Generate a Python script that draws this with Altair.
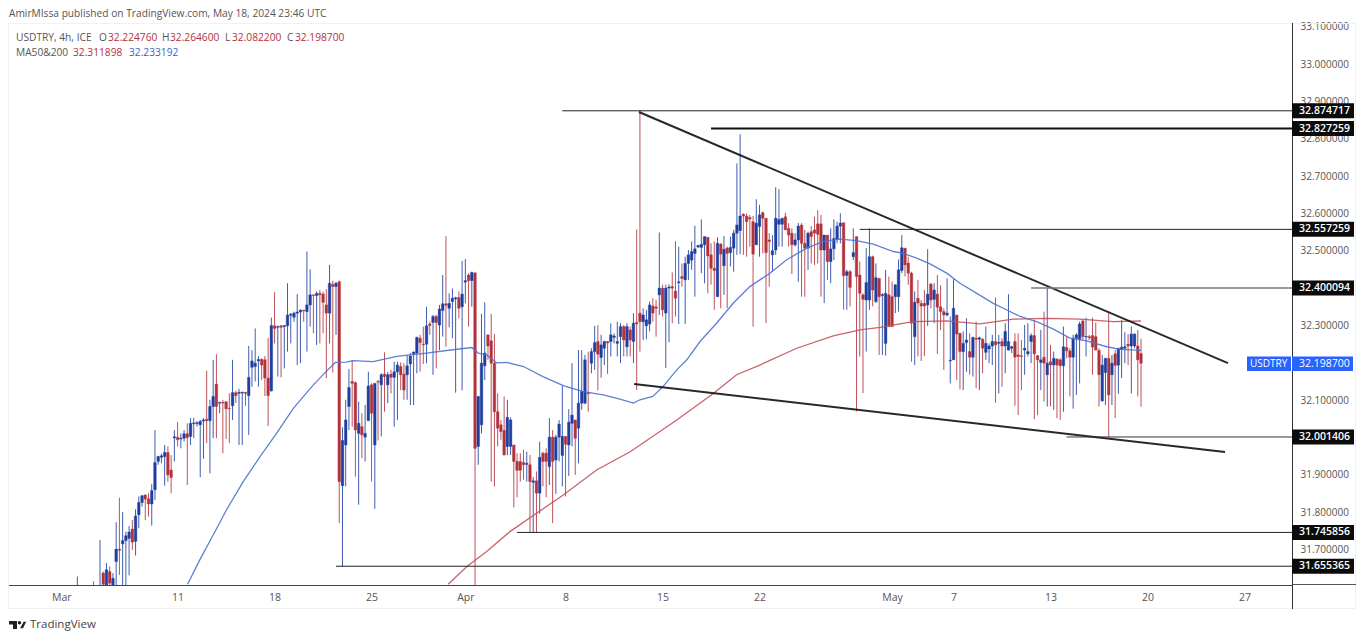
import altair as alt
import pandas as pd

first_bar = -31
high = [
31.628,31.60,31.60,31.60,31.60,31.615,31.60,31.726,31.641,31.664,
31.655,31.637,31.773,31.839,31.800,31.748,31.763,31.779,31.808,31.842,
31.846,31.848,31.851,31.875,32.020,31.951,31.956,31.980,31.976,31.953,
32.020,32.041,32.011,32.020,32.038,32.052,32.053,32.043,32.047,32.052,
32.179,32.101,32.208,32.223,32.096,32.101,32.096,32.118,32.208,32.125,
32.130,32.123,32.121,32.245,32.234,32.292,32.218,32.212,32.218,32.266,
32.321,32.389,32.300,32.301,32.301,32.413,32.333,32.337,32.384,32.343,
32.341,32.498,32.450,32.382,32.391,32.395,32.391,32.397,32.462,32.420,
32.417,32.420,32.027,32.101,32.183,32.208,32.150,32.096,32.065,32.087,
32.176,32.145,32.145,32.154,32.172,32.228,32.176,32.181,32.203,32.203,
32.201,32.199,32.221,32.226,32.230,32.270,32.275,32.297,32.350,32.310,
32.328,32.328,32.355,32.435,32.539,32.386,32.399,32.377,32.391,32.473,
32.478,32.440,32.444,32.441,32.110,32.331,32.362,32.275,32.331,32.277,
32.118,32.047,32.110,32.101,32.054,31.980,31.958,31.958,31.967,31.962,
31.953,31.894,31.909,31.989,31.962,31.971,32.052,32.020,32.007,32.047,
32.139,32.003,32.076,32.199,32.047,32.234,32.234,32.221,32.230,32.239,
32.299,32.301,32.275,32.259,32.257,32.306,32.279,32.310,32.306,32.301,
32.306,32.297,32.333,32.557,32.875,32.346,32.342,32.364,32.373,32.368,
32.549,32.409,32.409,32.410,32.442,32.525,32.511,32.466,32.484,32.502,
32.525,32.567,32.516,32.584,32.538,32.536,32.520,32.525,32.536,32.520,
32.540,32.511,32.538,32.556,32.734,32.812,32.600,32.600,32.596,32.593,
32.638,32.623,32.605,32.587,32.547,32.542,32.670,32.665,32.587,32.602,
32.574,32.560,32.547,32.574,32.574,32.556,32.551,32.566,32.591,32.609,
32.596,32.542,32.542,32.560,32.584,32.578,32.600,32.575,32.449,32.449,
32.560,32.538,32.471,32.386,32.507,32.560,32.487,32.466,32.426,32.386,
32.449,32.431,32.417,32.409,32.477,32.542,32.507,32.484,32.444,32.391,
32.422,32.368,32.395,32.504,32.413,32.413,32.435,32.408,32.346,32.426,
32.324,32.424,32.328,32.279,32.284,32.319,32.279,32.270,32.310,32.270,
32.266,32.297,32.252,32.275,32.375,32.275,32.266,32.306,32.384,32.245,
32.279,32.279,32.261,32.301,32.306,32.279,32.315,32.221,32.288,32.337,
32.400,32.248,32.230,32.212,32.212,32.297,32.270,32.239,32.275,32.279,
32.310,32.315,32.321,32.275,32.321,32.308,32.239,32.221,32.212,32.337,
32.221,32.234,32.239,32.315,32.282,32.277,32.297,32.279,32.288,32.2646]
low = [
31.58,31.55,31.55,31.55,31.55,31.55,31.55,31.55,31.56,31.58,
31.58,31.58,31.58,31.632,31.58,31.59,31.631,31.699,31.684,31.757,
31.815,31.779,31.788,31.764,31.833,31.927,31.931,31.871,31.882,31.851,
31.936,31.976,31.971,31.989,31.873,31.980,31.998,32.029,31.894,31.943,
31.985,31.904,31.998,31.998,32.065,31.958,31.996,31.985,32.047,32.092,
31.980,31.980,32.085,32.007,32.136,32.150,32.136,32.154,32.111,32.031,
32.123,32.252,32.163,32.161,32.185,32.230,32.252,32.310,32.194,32.199,
32.310,32.230,32.297,32.279,32.248,32.252,32.279,32.159,32.252,32.174,
32.275,31.771,31.655,31.869,32.020,32.029,31.895,31.820,31.945,31.936,
32.045,31.882,31.809,31.992,32.003,32.069,32.092,32.118,32.029,32.047,
32.127,32.101,32.101,32.087,32.087,32.172,32.176,32.197,32.199,32.275,
32.168,32.185,32.234,32.270,32.243,32.295,32.266,32.120,32.319,32.126,
32.359,32.297,32.350,31.60,31.927,32.011,32.154,32.208,31.882,31.869,
31.976,31.994,31.953,31.953,31.953,31.813,31.840,31.882,31.887,31.882,
31.746,31.746,31.746,31.796,31.869,31.840,31.873,31.771,31.849,31.936,
31.869,31.842,31.897,31.976,31.900,31.931,32.074,32.089,32.069,32.172,
32.181,32.126,32.160,32.194,32.170,32.217,32.252,32.217,32.199,32.217,
32.217,32.217,32.199,32.127,32.230,32.261,32.263,32.284,32.310,32.270,
32.328,32.324,32.186,32.255,32.306,32.324,32.304,32.404,32.304,32.422,
32.449,32.377,32.507,32.440,32.413,32.386,32.409,32.342,32.377,32.346,
32.382,32.346,32.458,32.444,32.489,32.491,32.489,32.484,32.511,32.297,
32.516,32.484,32.493,32.306,32.404,32.444,32.489,32.511,32.511,32.556,
32.511,32.438,32.511,32.417,32.377,32.377,32.449,32.466,32.462,32.466,
32.377,32.360,32.422,32.413,32.475,32.520,32.520,32.342,32.342,32.351,
32.475,32.070,32.217,32.119,32.230,32.342,32.351,32.360,32.221,32.221,
32.219,32.297,32.297,32.333,32.337,32.440,32.431,32.409,32.203,32.194,
32.217,32.205,32.218,32.299,32.346,32.306,32.224,32.288,32.181,32.324,
32.145,32.208,32.154,32.129,32.127,32.176,32.168,32.163,32.132,32.127,
32.172,32.208,32.199,32.194,32.093,32.118,32.136,32.172,32.233,32.226,
32.085,32.060,32.127,32.168,32.217,32.199,32.049,32.060,32.127,32.096,
32.083,32.083,32.074,32.052,32.047,32.069,32.212,32.110,32.077,32.114,
32.145,32.261,32.217,32.261,32.168,32.234,32.083,32.096,32.087,32.001,
32.087,32.052,32.117,32.159,32.199,32.194,32.118,32.239,32.110,32.0822]
open_ = [
31.59,31.57,31.57,31.57,31.57,31.59,31.57,31.57,31.637,31.60,
31.641,31.60,31.668,31.701,31.715,31.724,31.730,31.755,31.722,31.793,
31.826,31.846,31.836,31.822,31.860,31.936,31.947,31.949,31.960,31.913,
31.999,32.001,31.996,31.998,32.010,32.003,32.037,32.037,32.034,32.044,
32.049,32.045,32.083,32.143,32.092,32.094,32.096,32.078,32.085,32.120,
32.118,32.119,32.121,32.112,32.188,32.190,32.205,32.209,32.208,32.159,
32.125,32.299,32.295,32.299,32.297,32.299,32.327,32.322,32.333,32.336,
32.341,32.337,32.355,32.382,32.380,32.386,32.384,32.355,32.333,32.410,
32.404,32.417,31.871,31.980,32.083,32.150,32.147,32.011,32.029,32.001,
32.045,32.141,31.980,32.150,32.141,32.170,32.141,32.170,32.161,32.176,
32.190,32.170,32.168,32.197,32.224,32.226,32.266,32.250,32.250,32.304,
32.308,32.324,32.301,32.340,32.358,32.346,32.364,32.371,32.375,32.350,
32.416,32.435,32.420,32.441,31.976,32.034,32.192,32.275,32.259,32.199,
32.069,32.034,32.019,31.976,31.976,31.980,31.936,31.936,31.933,31.928,
31.927,31.880,31.884,31.851,31.958,31.958,31.922,32.001,31.940,32.001,
31.952,32.003,31.980,32.038,32.047,32.025,32.092,32.092,32.120,32.199,
32.230,32.257,32.214,32.239,32.257,32.257,32.268,32.252,32.270,32.297,
32.243,32.288,32.257,32.308,32.333,32.310,32.299,32.304,32.352,32.350,
32.382,32.400,32.333,32.400,32.404,32.392,32.414,32.431,32.422,32.466,
32.475,32.493,32.510,32.509,32.516,32.536,32.489,32.453,32.377,32.518,
32.460,32.507,32.495,32.507,32.547,32.554,32.598,32.593,32.589,32.578,
32.516,32.565,32.602,32.587,32.529,32.489,32.502,32.571,32.571,32.591,
32.560,32.547,32.516,32.529,32.569,32.520,32.507,32.551,32.556,32.572,
32.572,32.502,32.542,32.471,32.505,32.531,32.566,32.575,32.434,32.444,
32.484,32.538,32.435,32.382,32.368,32.368,32.484,32.364,32.426,32.380,
32.252,32.382,32.377,32.377,32.377,32.447,32.507,32.467,32.440,32.270,
32.373,32.359,32.359,32.355,32.411,32.370,32.384,32.350,32.337,32.328,
32.205,32.208,32.328,32.279,32.230,32.254,32.230,32.215,32.266,32.263,
32.263,32.228,32.237,32.245,32.257,32.252,32.257,32.245,32.234,32.239,
32.257,32.221,32.219,32.234,32.224,32.257,32.273,32.219,32.201,32.215,
32.168,32.203,32.194,32.210,32.208,32.192,32.241,32.232,32.215,32.266,
32.263,32.312,32.269,32.270,32.273,32.270,32.233,32.098,32.174,32.212,
32.168,32.224,32.194,32.236,32.239,32.250,32.245,32.245,32.245,32.22476]
close = [
31.60,31.56,31.56,31.56,31.56,31.57,31.56,31.59,31.607,31.646,
31.610,31.623,31.701,31.698,31.724,31.737,31.747,31.720,31.790,31.826,
31.844,31.835,31.822,31.858,31.933,31.949,31.951,31.960,31.900,31.893,
32.002,31.994,31.998,32.010,32.000,32.038,32.039,32.040,32.043,32.047,
32.045,32.083,32.110,32.083,32.094,32.092,32.077,32.077,32.120,32.112,
32.121,32.121,32.118,32.161,32.205,32.199,32.209,32.194,32.159,32.112,
32.300,32.292,32.297,32.295,32.300,32.328,32.330,32.333,32.336,32.341,
32.339,32.355,32.382,32.380,32.386,32.382,32.362,32.333,32.413,32.404,
32.413,31.882,31.992,32.047,32.134,32.145,32.020,32.038,32.007,32.011,
32.138,32.065,32.145,32.148,32.168,32.163,32.168,32.161,32.176,32.194,
32.168,32.127,32.192,32.218,32.229,32.268,32.254,32.248,32.299,32.300,
32.324,32.308,32.344,32.358,32.354,32.359,32.373,32.374,32.346,32.384,
32.420,32.420,32.442,31.971,32.110,32.199,32.226,32.245,32.199,32.069,
32.025,32.016,31.953,32.054,32.047,31.936,31.912,31.912,31.927,31.931,
31.882,31.884,31.851,31.947,31.936,31.936,32.001,31.936,32.001,32.036,
32.003,31.982,32.041,32.060,31.998,32.092,32.123,32.208,32.117,32.230,
32.254,32.223,32.248,32.257,32.253,32.275,32.272,32.257,32.297,32.261,
32.297,32.261,32.306,32.304,32.310,32.328,32.315,32.355,32.333,32.346,
32.400,32.342,32.400,32.403,32.400,32.373,32.417,32.426,32.466,32.489,
32.498,32.505,32.514,32.517,32.538,32.486,32.453,32.447,32.520,32.491,
32.504,32.493,32.509,32.547,32.569,32.593,32.593,32.578,32.585,32.491,
32.574,32.596,32.587,32.495,32.525,32.500,32.587,32.584,32.587,32.556,
32.542,32.516,32.529,32.566,32.520,32.507,32.547,32.538,32.547,32.544,
32.502,32.542,32.471,32.505,32.533,32.566,32.574,32.433,32.444,32.402,
32.495,32.431,32.386,32.370,32.415,32.484,32.395,32.428,32.377,32.383,
32.386,32.297,32.297,32.409,32.449,32.508,32.462,32.440,32.306,32.362,
32.360,32.352,32.352,32.384,32.368,32.395,32.349,32.337,32.328,32.333,
32.207,32.346,32.277,32.230,32.252,32.261,32.215,32.268,32.263,32.267,
32.239,32.252,32.245,32.257,32.248,32.255,32.245,32.284,32.257,32.243,
32.215,32.217,32.217,32.239,32.230,32.273,32.224,32.208,32.208,32.199,
32.199,32.194,32.212,32.194,32.192,32.243,32.232,32.215,32.266,32.275,
32.304,32.270,32.271,32.267,32.242,32.234,32.168,32.194,32.212,32.114,
32.199,32.193,32.239,32.242,32.243,32.245,32.277,32.277,32.208,32.1987]

ma50_bar = [3.1,6.9,11,15.1,20.3,25.5,30.6,35.8,42,46,48.8,52.2,54.3,60.5,67.8,77,83.2,91,93,95.6,98.7,101.8,107,113,119.3,125.5,131.7,136.8,141,143,147,150.2,154.4,157.5,161.6,166.7,171.9,177,183.2,188.4,194.6,199.7,204.9,210,215.2,221.4,224.5,228.6,232.7,237.9,242,247.2,252.3,255.4,260.6,265.7,270.9,276,281.2,287.4,291.5,298]
ma50_val = [31.607,31.673,31.739,31.806,31.882,31.949,32.011,32.078,32.141,32.177,32.201,32.202,32.206,32.203,32.217,32.226,32.233,32.241,32.226,32.221,32.200,32.201,32.190,32.163,32.139,32.123,32.114,32.103,32.092,32.101,32.110,32.137,32.181,32.208,32.257,32.306,32.360,32.404,32.440,32.476,32.507,32.525,32.531,32.527,32.518,32.498,32.493,32.480,32.465,32.440,32.413,32.386,32.359,32.346,32.324,32.310,32.290,32.266,32.259,32.243,32.236,32.233192]
ma200_bar = [83.7,89.4,95.6,102.8,111,119.3,129.6,140,154.4,165.7,172.9,180.1,191.5,202.8,211.1,217.3,223.4,227.6,237.9,248.2,258.5,268.8,279.1,289.4,298]
ma200_val = [31.607,31.654,31.695,31.748,31.797,31.846,31.913,31.962,32.047,32.118,32.168,32.194,32.239,32.272,32.288,32.295,32.304,32.310,32.312,32.304,32.317,32.319,32.317,32.310,32.311898]

level_start = [119,165,211,264,275,105,49]
level_price = [32.874717,32.827259,32.557259,32.400094,32.001406,31.745856,31.655365]
level_width = [1,2,1,1.5,1,1,1]
level_color = ["#222222","#111111","#222222","#777777","#333333","#222222","#222222"]

trend_bar = [[142.7,324.9],[141.2,324.0]]
trend_price = [[32.8715,32.199],[32.143,31.961]]

y_ticks = [33.1,33.0,32.9,32.8,32.7,32.6,32.5,32.3,32.1,31.9,31.8,31.7]
x_tick_bar = [-36,0,30,60,89,120,150,180,221,240,270,300,330]
x_tick_text = ["Mar","11","18","25","Apr","8","15","22","May","7","13","20","27"]

X0, X1 = -52.46, 344.7
Y0, Y1 = 31.6051, 33.1098
FONT = "Open Sans"
GRAY = "#555555"
RED = "#b2323c"
BLUE = "#1f3fa0"

bars = pd.DataFrame({"i": [first_bar + k for k in range(len(close))], "o": open_, "h": high, "l": low, "c": close})
bars["up"] = bars.c >= bars.o
bars["lo"] = bars[["o", "c"]].min(axis=1)
bars["hi"] = bars[["o", "c"]].max(axis=1)

xs = alt.Scale(domain=[X0, X1], nice=False, zero=False, padding=0)
ys = alt.Scale(domain=[Y0, Y1], nice=False, zero=False, padding=0)
colr = alt.Color("up:N", scale=alt.Scale(domain=[True, False], range=[BLUE, RED]), legend=None)
lookup = "{" + ",".join(f"'{b}':'{t}'" for b, t in zip(x_tick_bar, x_tick_text)) + "}[datum.value]"

xaxis = alt.Axis(values=x_tick_bar, labelExpr=lookup, title=None, grid=False, ticks=False, labelOverlap=False,
                 labelFlush=False, domainColor="#444444", labelColor=GRAY, labelFont=FONT, labelFontSize=10.5, labelPadding=7)
yaxis = alt.Axis(values=y_ticks, format=".6f", orient="right", title=None, grid=False, ticks=False, labelOverlap=False,
                 labelFlush=False, domainColor="#222222", labelColor=GRAY, labelFont=FONT, labelFontSize=10, labelPadding=8)
X = lambda f: alt.X(f, scale=xs, axis=xaxis)
Y = lambda f: alt.Y(f, scale=ys, axis=yaxis)

wicks = alt.Chart(bars).mark_rule(strokeWidth=1, clip=True, opacity=0.85).encode(
    x=X("i:Q"), y=Y("l:Q"), y2="h:Q", color=colr)
bodies = alt.Chart(bars).mark_bar(size=2.6, clip=True, orient="vertical", strokeWidth=0.4).encode(
    x=X("i:Q"), y=Y("lo:Q"), y2="hi:Q", color=colr, stroke=colr)

def curve(bx, vals, color, width):
    df = pd.DataFrame({"i": bx, "v": vals})
    return alt.Chart(df).mark_line(color=color, strokeWidth=width, clip=True, opacity=0.9).encode(
        x=X("i:Q"), y=Y("v:Q"))

layers = [wicks, bodies, curve(ma200_bar, ma200_val, "#c2525c", 1.3), curve(ma50_bar, ma50_val, "#4f72d2", 1.3)]
for bx, vals in zip(trend_bar, trend_price):
    layers.append(curve(bx, vals, "#111111", 2))

for s, p, w, c in zip(level_start, level_price, level_width, level_color):
    df = pd.DataFrame({"i": [s], "e": [X1], "p": [p]})
    layers.append(alt.Chart(df).mark_rule(color=c, strokeWidth=w, clip=True).encode(
        x=X("i:Q"), x2="e:Q", y=Y("p:Q")))

def text(label, px, py, color=GRAY, size=10.5, align="left", weight="normal", font=FONT):
    return alt.Chart(pd.DataFrame({"t": [label]})).mark_text(
        align=align, baseline="middle", font=font, fontSize=size, fontWeight=weight, color=color,
        x=px - 8, y=py - 23).encode(text="t:N")

def box(left, right, top, bottom, color):
    return alt.Chart(pd.DataFrame({"k": [0]})).mark_rect(color=color).encode(
        x=alt.value(left - 8), x2=alt.value(right - 8), y=alt.value(top - 23), y2=alt.value(bottom - 23))

# frame
layers += [box(8, 1356, 23, 24, "#eef1f6"), box(8, 1356, 608, 609, "#eef1f6"), box(1355, 1356, 23, 609, "#eef1f6"),
           box(8, 9, 23, 609, "#eef1f6"), box(1292, 1356, 584, 585, "#555555"), box(1292, 1293, 23, 609, "#333333")]

# price tags
for p in level_price:
    py = 437.5 + (32 - p) * 373.5
    layers.append(box(1292, 1354, py - 7.5, py + 7.5, "#0b0b0b"))
    layers.append(text(f"{p:.6f}", 1299, py, "#ffffff", 10.5, weight=600))
layers.append(box(1247, 1291, 356.5, 371, "#2962ff"))
layers.append(box(1292, 1353, 356.5, 371, "#2962ff"))
layers.append(text("USDTRY", 1250, 364, "#ffffff", 10))
layers.append(text("32.198700", 1299, 364, "#ffffff", 10.5))

# header
layers.append(text("AmirMIssa published on TradingView.com, May 18, 2024 23:46 UTC", 9, 14, "#555555", 10.2))
header = [("USDTRY, 4h, ICE", 16, GRAY), ("O", 99, GRAY), ("32.224760", 108, RED), ("H", 162, GRAY), ("32.264600", 170, RED),
          ("L", 225, GRAY), ("32.082200", 232, RED), ("C", 287, GRAY), ("32.198700", 295, RED)]
for t, px, c in header:
    layers.append(text(t, px, 37.5, c, 10.2))
for t, px, c in [("MA50&200", 16, GRAY), ("32.311898", 73, RED), ("32.233192", 129, "#3c62c8")]:
    layers.append(text(t, px, 52.5, c, 10.2))

# footer logo
layers += [box(9, 17, 621, 624.5, "#222222"), box(13, 17, 621, 629, "#222222")]
layers.append(alt.Chart(pd.DataFrame({"k": [0]})).mark_circle(color="#222222", size=12, opacity=1).encode(
    x=alt.value(19.5 - 8), y=alt.value(622.7 - 23)))
layers.append(alt.Chart(pd.DataFrame({"k": [0]})).mark_point(shape="M 0.2 -1 L 1 -1 L 0 1 L -0.9 1 Z", filled=True, color="#222222",
    size=40, opacity=1).encode(x=alt.value(23 - 8), y=alt.value(625 - 23)))
layers.append(text("TradingView", 30, 625, "#444444", 11.5))

chart = alt.layer(*layers).properties(
    width=1284, height=562,
    autosize=alt.AutoSizeParams(type="none"),
    padding={"left": 0, "top": 15, "right": 66, "bottom": 47},
    background="white",
).configure_view(stroke=None)

chart.save("out.html", embed_options={"renderer": "svg", "actions": False})
